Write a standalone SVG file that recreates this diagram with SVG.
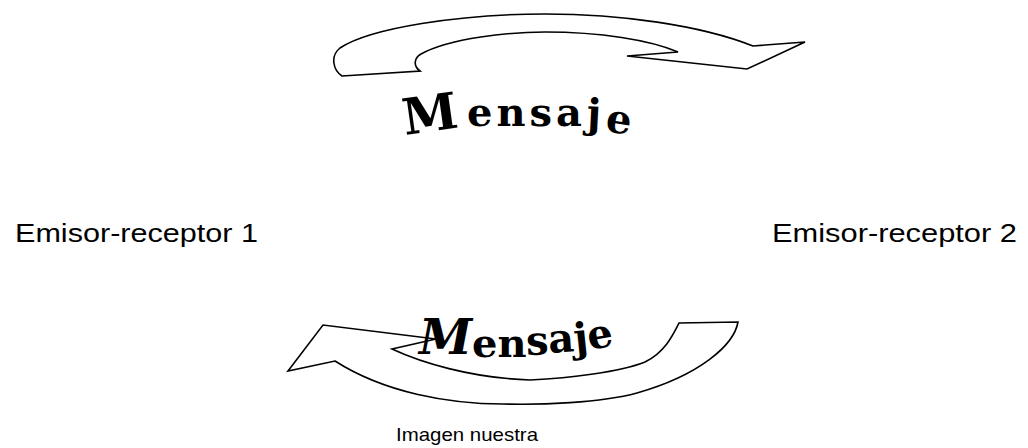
<svg xmlns="http://www.w3.org/2000/svg" width="1028" height="448" viewBox="0 0 1028 448">
<style>
.arrow{fill:#fff;stroke:#000;stroke-width:1.6;stroke-linejoin:miter}
.word{font-family:"DejaVu Serif","Liberation Serif",serif;font-weight:bold;fill:#000}
.lbl{font-family:"Liberation Sans",Arial,sans-serif;fill:#000}
</style>
<rect width="1028" height="448" fill="#fff"/>
<g id="connectors">
<g id="arrow-top">
<path class="arrow" d="M342,76 L420,71 C413,66 414,58 421,54 C450,38 510,32 545,32 C600,32 650,40 678,52 L627,56 L747,69 L805,42 L753,46 C700,25 620,14 545,14 C460,14 370,28 340,48 C330,56 333,70 342,76 Z"/>
</g>
<g id="arrow-bottom">
<path class="arrow" d="M288,371 L323,325 L436,339 L392,349 C420,362 470,378 530,380 C570,378 620,372 645,362 C665,352 673,335 679,323 L738,322 C734,345 700,375 637,393 C600,403 540,405 503,404 C450,404 385,393 335,361 Z"/>
</g>
</g>
<g id="label-top">
<text class="word" font-size="40"><tspan x="405" y="135" rotate="-8" font-size="50">M</tspan><tspan x="467" y="126 126 126 126 127 131" rotate="0 0 0 0 3 9" letter-spacing="4">ensaje</tspan></text>
</g>
<g id="label-bottom">
<text class="word" font-size="40"><tspan x="419" y="354" font-size="48" font-style="italic">M</tspan><tspan x="472" y="357 357 355 353 352 350" rotate="0 0 -2 -4 -6 -10">ensaje</tspan></text>
</g>
<g id="node-1">
<text class="lbl" x="15" y="242" font-size="26" textLength="243" lengthAdjust="spacingAndGlyphs">Emisor-receptor 1</text>
</g>
<g id="node-2">
<text class="lbl" x="772" y="242" font-size="26" textLength="245" lengthAdjust="spacingAndGlyphs">Emisor-receptor 2</text>
</g>
<g id="caption">
<text class="lbl" x="396" y="441" font-size="19" textLength="142" lengthAdjust="spacingAndGlyphs">Imagen nuestra</text>
</g>
</svg>
